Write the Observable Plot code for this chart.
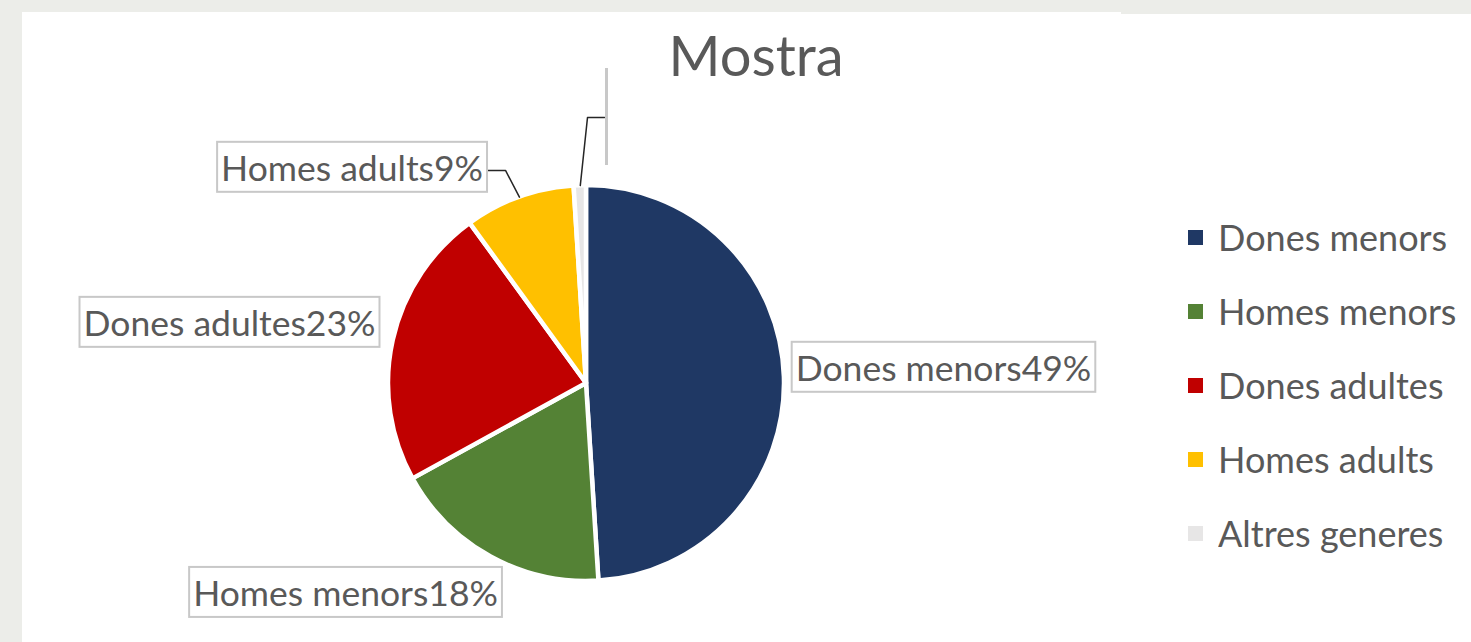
<!DOCTYPE html>
<html>
<head>
<meta charset="utf-8">
<script src="https://cdn.jsdelivr.net/npm/d3@7"></script>
<script src="https://cdn.jsdelivr.net/npm/@observablehq/plot@0.6"></script>
<style>
  html, body { margin: 0; padding: 0; }
  body { width: 1471px; height: 642px; background: #ecede9; position: relative; overflow: hidden; font-family: Lato, "Open Sans", sans-serif; }
  #panel { position: absolute; left: 22px; top: 12px; width: 1099px; bottom: 0; background: #fff; }
  #panel2 { position: absolute; left: 1121px; top: 14px; right: 0; bottom: 0; background: #fff; }
  #chart { position: absolute; left: 0; top: 0; }
  #title { position: absolute; left: 556px; width: 400px; top: 27px; text-align: center; font: 56px/1 Lato, sans-serif; color: #595959; margin: 0; font-weight: normal; }
  #legend { position: absolute; left: 1188px; top: 200px; width: 283px; }
  #legend > div { font: 36px Lato, sans-serif !important; color: #595959 !important; margin: 0 !important; }
  #legend .lg-swatch { height: 74px !important; padding: 0 !important; margin: 0 !important; display: flex !important; align-items: center !important; }
  #legend .lg-swatch svg { margin-right: 15px !important; }
</style>
</head>
<body>
<div id="panel"></div>
<div id="panel2"></div>
<div id="chart"></div>
<div id="title">Mostra</div>
<div id="legend"></div>
<script>
// ---- data ----
const categories = ["Dones menors", "Homes menors", "Dones adultes", "Homes adults", "Altres generes"];
const percents = [49, 18, 23, 9, 1];
const showLabel = [true, true, true, true, false];
const colors = ["#1f3864", "#548235", "#c00000", "#ffc000", "#e7e6e6"];

// ---- layout (label placement in pie-radius units, centre = 0,0) ----
const labelPos = {
  "Dones menors": [1.803, 0.071],
  "Homes menors": [-1.217, -1.066],
  "Dones adultes": [-1.803, 0.298],
  "Homes adults": [-1.184, 1.081],
  "Altres generes": [0.101, 1.346]
};
const leaderPath = {
  "Homes adults": [[-0.409, 1.076], [-0.50, 1.076]],
  "Altres generes": [[0.005, 1.343], [0.091, 1.343]]
};
const emptyBoxHalfHeight = 0.245;
const cx = 586, cy = 383, R = 198;

const rows = categories.map((c, i) => ({category: c, value: percents[i], show: showLabel[i]}));
const arcs = d3.pie().sort(null).value(d => d.value)(rows);

// leader lines: from slice mid-angle on the rim to the label
const leaderRows = [];
for (const a of arcs) {
  const lp = leaderPath[a.data.category];
  if (!lp) continue;
  const m = (a.startAngle + a.endAngle) / 2;
  leaderRows.push({category: a.data.category, x: Math.sin(m), y: Math.cos(m)});
  for (const [x, y] of lp) leaderRows.push({category: a.data.category, x, y});
}

const labelRows = rows.filter(d => d.show).map(d => ({
  text: `${d.category}${d.value}%`, x: labelPos[d.category][0], y: labelPos[d.category][1]
}));
const emptyRows = rows.filter(d => !d.show).map(d => ({
  x: labelPos[d.category][0],
  y1: labelPos[d.category][1] - emptyBoxHalfHeight,
  y2: labelPos[d.category][1] + emptyBoxHalfHeight
}));

function pieMark(index, scales) {
  const color = scales.color ?? d3.scaleOrdinal(categories, colors);
  const x0 = scales.x(0), y0 = scales.y(0), r = scales.x(1) - scales.x(0);
  const arc = d3.arc().innerRadius(0).outerRadius(r);
  const g = d3.create("svg:g").attr("aria-label", "pie").attr("transform", `translate(${x0},${y0})`);
  g.selectAll("path").data(arcs).join("path")
    .attr("d", arc)
    .attr("fill", d => color(d.data.category))
    .attr("stroke", "#fff")
    .attr("stroke-width", 4.5)
    .attr("stroke-linejoin", "round");
  return g.node();
}

const chart = Plot.plot({
  width: 1471,
  height: 642,
  margin: 0,
  x: {domain: [-1, 1], range: [cx - R, cx + R], axis: null},
  y: {domain: [-1, 1], range: [cy + R, cy - R], axis: null},
  color: {domain: categories, range: colors},
  style: {background: "transparent", overflow: "visible"},
  marks: [
    pieMark,
    Plot.line(leaderRows, {x: "x", y: "y", z: "category", stroke: "#262626", strokeWidth: 1.5}),
    Plot.ruleX(emptyRows, {x: "x", y1: "y1", y2: "y2", stroke: "#c8c8c8", strokeWidth: 3}),
    Plot.text(labelRows, {x: "x", y: "y", text: "text", fontSize: 35.5, fontFamily: "Lato", fill: "#595959"})
  ]
});
document.getElementById("chart").append(chart);

// label boxes behind the label texts
const labelTexts = new Set(labelRows.map(d => d.text));
const sr = chart.getBoundingClientRect();
for (const t of Array.from(chart.querySelectorAll("text"))) {
  if (!labelTexts.has(t.textContent)) continue;
  const b = t.getBoundingClientRect();
  const r = document.createElementNS("http://www.w3.org/2000/svg", "rect");
  r.setAttribute("x", b.left - sr.left - 4);
  r.setAttribute("y", b.top - sr.top - 4);
  r.setAttribute("width", b.width + 8);
  r.setAttribute("height", b.height + 7);
  r.setAttribute("fill", "#fff");
  r.setAttribute("stroke", "#c8c8c8");
  r.setAttribute("stroke-width", 2);
  const g = t.parentNode;
  g.parentNode.insertBefore(r, g);
}

// legend
let legend = null;
try { legend = chart.legend("color", {legend: "swatches", columns: 1, swatchSize: 15, className: "lg"}); } catch (e) {}
if (!legend) legend = Plot.legend({color: {domain: categories, range: colors}, legend: "swatches", columns: 1, swatchSize: 15, className: "lg"});
document.getElementById("legend").append(legend);
</script>
</body>
</html>
